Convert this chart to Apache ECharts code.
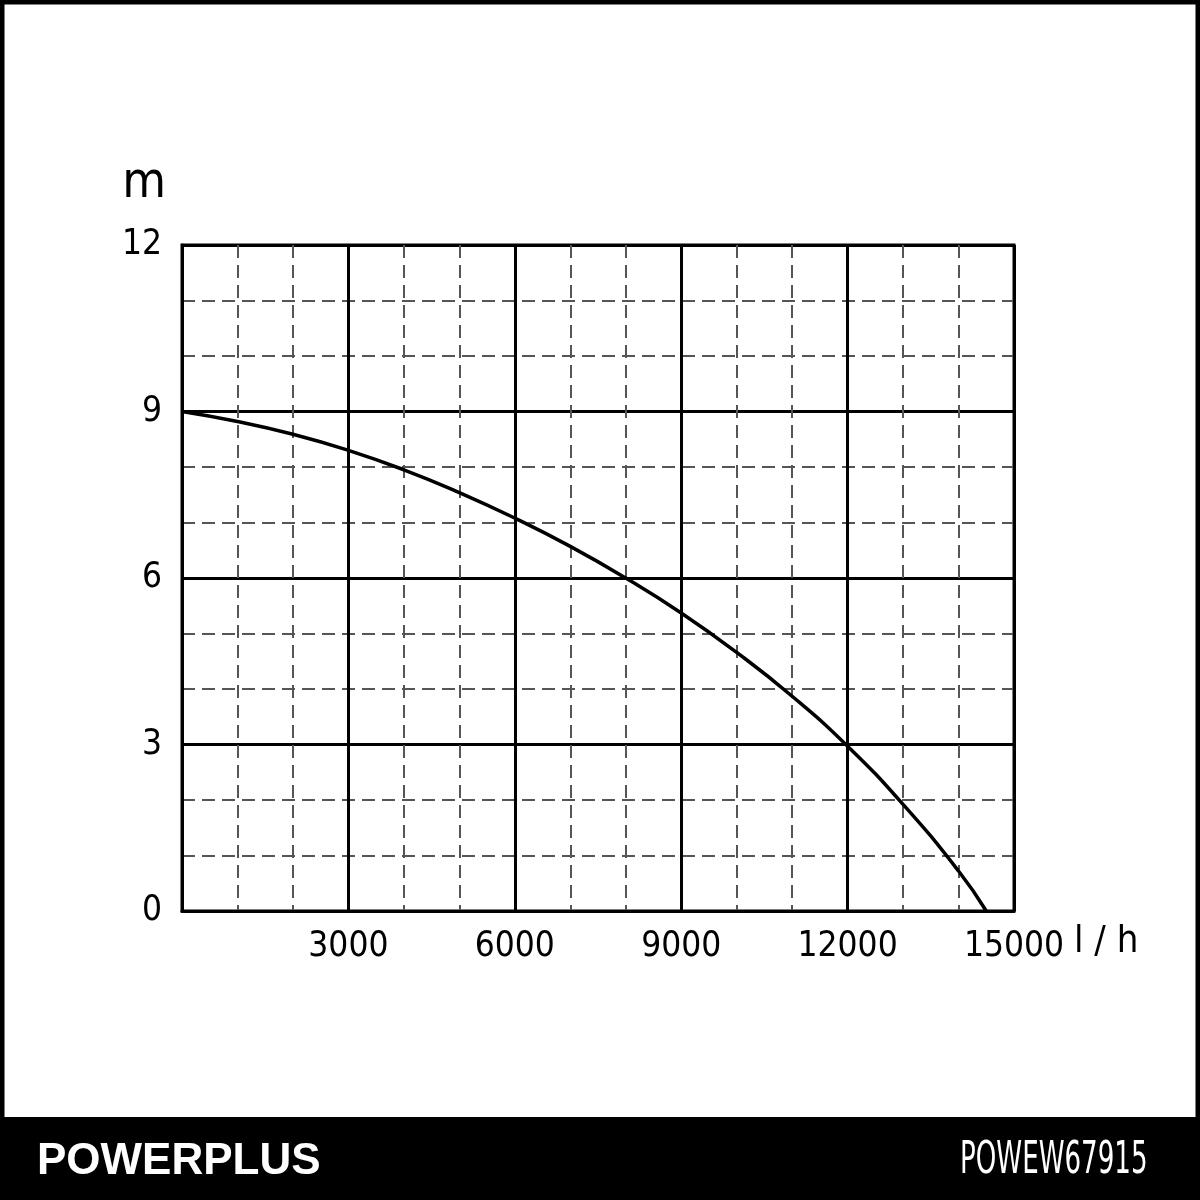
<!DOCTYPE html>
<html>
<head>
<meta charset="utf-8">
<script src="https://cdn.jsdelivr.net/npm/echarts@6/dist/echarts.min.js"></script>
<style>
  html, body { margin: 0; padding: 0; background: #fff; }
  #main { width: 1200px; height: 1200px; }
</style>
</head>
<body>
<div id="main"></div>
<script>
// pump curve: flow (l/h) vs head (m)
var flow = [0, 1000, 2000, 3000, 4000, 5000, 6000, 7000, 8000, 9000, 10000, 11000, 12000, 13000, 14000, 14500];
var head = [9.0, 8.82, 8.59, 8.30, 7.95, 7.54, 7.08, 6.57, 6.0, 5.37, 4.66, 3.87, 2.97, 1.92, 0.72, 0];

var xTicks = [0, 3000, 6000, 9000, 12000, 15000];
var yTicks = [0, 3, 6, 9, 12];

var labelFont = '"Liberation Sans Narrow", "DejaVu Sans Condensed", "Noto Sans", sans-serif';

var pts = [];
for (var i = 0; i < flow.length; i++) {
    pts.push([flow[i], head[i]]);
}

var myChart = echarts.init(document.getElementById('main'));

var option = {
    backgroundColor: '#fff',
    animation: false,
    grid: {
        left: 182,
        right: 186,
        top: 245,
        bottom: 289,
        show: true,
        borderColor: '#000',
        borderWidth: 3
    },
    xAxis: {
        type: 'value',
        min: xTicks[0],
        max: xTicks[xTicks.length - 1],
        interval: 3000,
        name: 'l / h',
        nameLocation: 'end',
        nameGap: 60,
        nameTextStyle: {
            fontFamily: labelFont,
            fontSize: 38,
            color: '#000',
            align: 'left',
            verticalAlign: 'top',
            padding: [12, 0, 0, 0]
        },
        axisLine: { show: true, lineStyle: { color: '#000', width: 3 } },
        axisTick: { show: false },
        axisLabel: {
            margin: 18,
            fontFamily: labelFont,
            fontSize: 35,
            color: '#000',
            formatter: function (v) { return v === 0 ? '' : String(v); }
        },
        splitLine: { show: true, lineStyle: { color: '#000', width: 3 } },
        minorTick: { show: false, splitNumber: 3 },
        minorSplitLine: { show: true, lineStyle: { color: '#555', width: 2, type: [13, 7] } }
    },
    yAxis: {
        type: 'value',
        min: yTicks[0],
        max: yTicks[yTicks.length - 1],
        interval: 3,
        name: 'm',
        nameLocation: 'end',
        nameGap: 36,
        nameTextStyle: {
            fontFamily: labelFont,
            fontSize: 50,
            color: '#000',
            align: 'right',
            padding: [0, 16, 0, 0]
        },
        axisLine: { show: true, lineStyle: { color: '#000', width: 3 } },
        axisTick: { show: false },
        axisLabel: {
            margin: 20,
            fontFamily: labelFont,
            fontSize: 35,
            color: '#000'
        },
        splitLine: { show: true, lineStyle: { color: '#000', width: 3 } },
        minorTick: { show: false, splitNumber: 3 },
        minorSplitLine: { show: true, lineStyle: { color: '#555', width: 2, type: [13, 7] } }
    },
    series: [{
        type: 'line',
        data: pts,
        smooth: 0.5,
        showSymbol: false,
        symbol: 'none',
        lineStyle: { color: '#000', width: 3.5 },
        z: 5
    }],
    graphic: [
        {
            type: 'rect',
            shape: { x: 2, y: 2, width: 1196, height: 1196 },
            style: { fill: 'none', stroke: '#000', lineWidth: 5 },
            z: 100
        },
        {
            type: 'rect',
            shape: { x: 0, y: 1117, width: 1200, height: 83 },
            style: { fill: '#000' },
            z: 100
        },
        {
            type: 'text',
            left: 37,
            top: 1140,
            style: {
                text: 'POWERPLUS',
                fill: '#fff',
                font: 'bold 44px "Liberation Sans", Arial, sans-serif'
            },
            z: 101
        },
        {
            type: 'text',
            x: 960,
            y: 1140,
            scaleX: 0.66,
            style: {
                text: 'POWEW67915',
                fill: '#fff',
                font: '44px "Liberation Sans Narrow", "DejaVu Sans Condensed", sans-serif'
            },
            z: 101
        }
    ]
};

myChart.setOption(option);
</script>
</body>
</html>
